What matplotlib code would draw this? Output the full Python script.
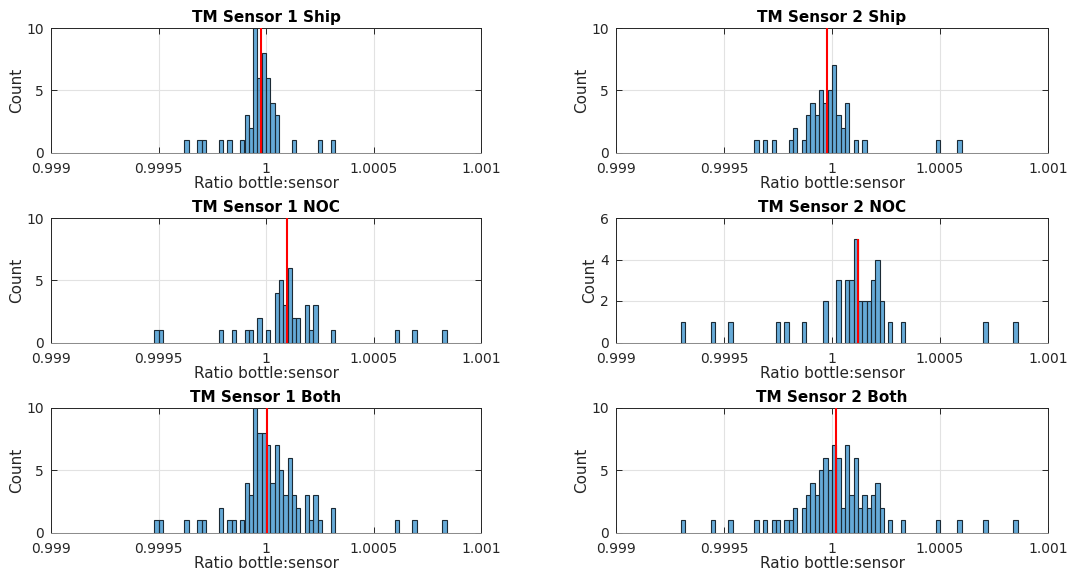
import matplotlib
matplotlib.use("Agg")
import matplotlib.pyplot as plt
from matplotlib.ticker import FixedLocator

BIN_WIDTH = 0.00002

titles = ["TM Sensor 1 Ship", "TM Sensor 2 Ship",
          "TM Sensor 1 NOC", "TM Sensor 2 NOC",
          "TM Sensor 1 Both", "TM Sensor 2 Both"]

s1_ship_bins = [0.99962, 0.99968, 0.99970, 0.99978, 0.99982, 0.99988, 0.99990,
                0.99992, 0.99994, 0.99996, 0.99998, 1.00000, 1.00002, 1.00004,
                1.00012, 1.00024, 1.00030]
s1_ship_counts = [1, 1, 1, 1, 1, 1, 3, 2, 10, 6, 8, 6, 4, 3, 1, 1, 1]

s2_ship_bins = [0.99964, 0.99968, 0.99972, 0.99980, 0.99982, 0.99986, 0.99988,
                0.99990, 0.99992, 0.99994, 0.99996, 0.99998, 1.00000, 1.00002,
                1.00004, 1.00006, 1.00010, 1.00014, 1.00048, 1.00058]
s2_ship_counts = [1, 1, 1, 1, 2, 1, 3, 4, 3, 5, 4, 5, 7, 3, 2, 4, 1, 1, 1, 1]

s1_noc_bins = [0.99948, 0.99950, 0.99978, 0.99984, 0.99990, 0.99992, 0.99996,
               1.00000, 1.00004, 1.00006, 1.00008, 1.00010, 1.00012, 1.00014,
               1.00018, 1.00020, 1.00022, 1.00030, 1.00060, 1.00068, 1.00082]
s1_noc_counts = [1, 1, 1, 1, 1, 1, 2, 1, 4, 5, 3, 6, 2, 2, 3, 1, 3, 1, 1, 1, 1]

s2_noc_bins = [0.99930, 0.99944, 0.99952, 0.99974, 0.99978, 0.99986, 0.99996,
               1.00002, 1.00006, 1.00008, 1.00010, 1.00012, 1.00014, 1.00016,
               1.00018, 1.00020, 1.00022, 1.00026, 1.00032, 1.00070, 1.00084]
s2_noc_counts = [1, 1, 1, 1, 1, 1, 2, 3, 3, 3, 5, 2, 2, 2, 3, 4, 2, 1, 1, 1, 1]

s1_both_bins = [0.99948, 0.99950, 0.99962, 0.99968, 0.99970, 0.99978, 0.99982,
                0.99984, 0.99988, 0.99990, 0.99992, 0.99994, 0.99996, 0.99998,
                1.00000, 1.00002, 1.00004, 1.00006, 1.00008, 1.00010, 1.00012,
                1.00014, 1.00018, 1.00020, 1.00022, 1.00024, 1.00030, 1.00060,
                1.00068, 1.00082]
s1_both_counts = [1, 1, 1, 1, 1, 2, 1, 1, 1, 4, 3, 10, 8, 8, 7, 4, 7, 5, 3, 6,
                  3, 2, 3, 1, 3, 1, 2, 1, 1, 1]

s2_both_bins = [0.99930, 0.99944, 0.99952, 0.99964, 0.99968, 0.99972, 0.99974,
                0.99978, 0.99980, 0.99982, 0.99986, 0.99988, 0.99990, 0.99992,
                0.99994, 0.99996, 0.99998, 1.00000, 1.00002, 1.00004, 1.00006,
                1.00008, 1.00010, 1.00012, 1.00014, 1.00016, 1.00018, 1.00020,
                1.00022, 1.00026, 1.00032, 1.00048, 1.00058, 1.00070, 1.00084]
s2_both_counts = [1, 1, 1, 1, 1, 1, 1, 1, 1, 2, 2, 3, 4, 3, 5, 6, 5, 7, 6, 2,
                  7, 3, 6, 2, 3, 2, 3, 4, 2, 1, 1, 1, 1, 1, 1]

ref_lines = [0.999978, 0.999979, 1.000099, 1.000119, 1.000005, 1.000019]
ref_heights = [10, 10, 10, 5, 10, 10]

y_limits = [10, 10, 10, 6, 10, 10]
y_ticks = [[0, 5, 10], [0, 5, 10], [0, 5, 10], [0, 2, 4, 6], [0, 5, 10], [0, 5, 10]]
x_ticks = [0.999, 0.9995, 1.0, 1.0005, 1.001]
x_ticklabels = ["0.999", "0.9995", "1", "1.0005", "1.001"]

panel_bins = [s1_ship_bins, s2_ship_bins, s1_noc_bins, s2_noc_bins, s1_both_bins, s2_both_bins]
panel_counts = [s1_ship_counts, s2_ship_counts, s1_noc_counts, s2_noc_counts,
                s1_both_counts, s2_both_counts]

W, H = 1072, 574
fig = plt.figure(figsize=(W / 100, H / 100), dpi=100)

col_x = [51, 616]
col_w = [430, 432]
row_top = [28, 218, 407.5]
row_h = [124.5, 124.5, 125]

bar_face = (0.0, 0.447, 0.741, 0.6)
axis_col = "#262626"

for i in range(6):
    r, c = divmod(i, 2)
    left = col_x[c] / W
    bottom = 1 - (row_top[r] + row_h[r]) / H
    ax = fig.add_axes([left, bottom, col_w[c] / W, row_h[r] / H])
    ax.bar(panel_bins[i], panel_counts[i], width=BIN_WIDTH, align="edge",
           color=bar_face, edgecolor="#1b2a35", linewidth=0.8, zorder=2)
    ax.plot([ref_lines[i], ref_lines[i]], [0, ref_heights[i]], color="#ff0000",
            linewidth=1.5, zorder=3, solid_capstyle="butt")
    ax.set_xlim(0.999, 1.001)
    ax.set_ylim(0, y_limits[i])
    ax.xaxis.set_major_locator(FixedLocator(x_ticks))
    ax.set_xticklabels(x_ticklabels)
    ax.yaxis.set_major_locator(FixedLocator(y_ticks[i]))
    ax.grid(True, color="#e2e2e2", linewidth=0.8, zorder=0)
    ax.set_axisbelow(True)
    ax.tick_params(direction="in", length=4, width=0.7, colors=axis_col,
                   labelsize=10, top=True, right=True, pad=5)
    ax.tick_params(axis="x", pad=6.5)
    for sp in ax.spines.values():
        sp.set_color(axis_col)
        sp.set_linewidth(0.7)
    ax.spines["bottom"].set_color("#8a8a8a")
    ax.set_xlabel("Ratio bottle:sensor", fontsize=11, color=axis_col, labelpad=0.5)
    ax.set_ylabel("Count", fontsize=11, color=axis_col, labelpad=2)
    ax.set_title(titles[i], fontsize=11, fontweight="bold", color="black", pad=4)

fig.savefig("out.png", dpi=100)
